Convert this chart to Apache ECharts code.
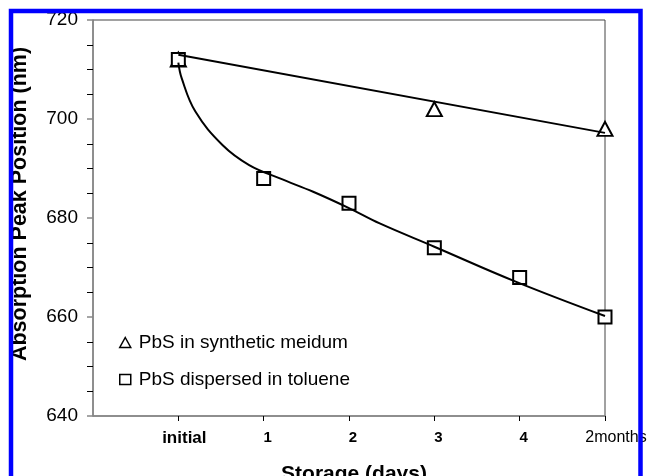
<!DOCTYPE html>
<html>
<head>
<meta charset="utf-8">
<script src="https://cdn.jsdelivr.net/npm/echarts@6/dist/echarts.min.js"></script>
<style>
html,body{margin:0;padding:0;background:#fff;}
#chart{width:647px;height:476px;}
</style>
</head>
<body>
<div id="chart"></div>
<script>
// ---- data ----
const xLabels = ['initial', '1', '2', '3', '4', '2months'];
const xTickValues = [0, 1, 2, 3, 4, 5];

const synName = 'PbS in synthetic meidum';
const synX = [0, 3, 5];
const synY = [712, 702, 698];

const tolName = 'PbS dispersed in toluene';
const tolX = [0, 1, 2, 3, 4, 5];
const tolY = [712, 688, 683, 674, 668, 660];

// straight trend line of the synthetic-medium series (end points)
const synTrendX = [0, 5];
const synTrendY = [713, 697.2];

// curved trend line of the toluene series
const tolCurveX = [0, 0.04, 0.2, 0.52, 0.83, 1.19, 1.58, 2.0, 2.36, 3.0, 3.96, 5];
const tolCurveY = [711.4, 708.2, 701.5, 694.7, 690.7, 688.0, 685.3, 682.0, 678.9, 674.2, 667.1, 660.2];

const yMin = 640, yMax = 720, yStep = 20;

const zip = (xs, ys) => xs.map((x, i) => [x, ys[i]]);
const FONT = 'Liberation Sans, Arial, sans-serif';

const chart = echarts.init(document.getElementById('chart'), null, {renderer: 'canvas'});
chart.setOption({
  backgroundColor: '#fff',
  animation: false,
  grid: {
    left: 93, top: 20, right: 42, bottom: 60,
    outerBoundsMode: 'none',
    containLabel: false,
    show: true, borderColor: '#444', borderWidth: 1, backgroundColor: '#fff'
  },
  legend: {
    orient: 'vertical',
    left: 119, top: 333,
    itemWidth: 11, itemHeight: 10, itemGap: 18,
    padding: 0,
    selectedMode: false,
    textStyle: {fontFamily: FONT, fontSize: 19, color: '#000', padding: [0, 0, 0, 3]},
    itemStyle: {borderWidth: 1.5},
    data: [
      {name: synName, icon: 'triangle'},
      {name: tolName, icon: 'rect'}
    ]
  },
  xAxis: {
    type: 'value',
    min: -1, max: 5, interval: 1,
    name: 'Storage (days)',
    nameLocation: 'middle',
    nameGap: 48,
    nameTextStyle: {fontFamily: FONT, fontSize: 21, fontWeight: 'bold', color: '#000', padding: [0, 0, 0, 10]},
    axisLine: {onZero: false, lineStyle: {color: '#888', width: 1.5}},
    axisTick: {show: true, length: 5, customValues: xTickValues, lineStyle: {color: '#000', width: 1}},
    splitLine: {show: false},
    minorSplitLine: {show: false},
    axisLabel: {
      customValues: xTickValues,
      margin: 14,
      formatter: function (v) {
        const s = xLabels[Math.round(v)];
        if (s === undefined) return '';
        if (s === 'initial') return '{a|' + s + '}';
        if (s === '2months') return '{c|' + s + '}';
        return '{b|' + s + '}';
      },
      rich: {
        a: {fontFamily: FONT, fontSize: 17, fontWeight: 'bold', color: '#000', padding: [0, 0, 0, 12]},
        b: {fontFamily: FONT, fontSize: 15, fontWeight: 'bold', color: '#000', padding: [0, 0, 0, 8]},
        c: {fontFamily: FONT, fontSize: 16, color: '#000', padding: [0, 0, 0, 22]}
      }
    }
  },
  yAxis: {
    type: 'value',
    min: yMin, max: yMax, interval: yStep,
    name: 'Absorption Peak Position (nm)',
    nameLocation: 'middle',
    nameRotate: 90,
    nameGap: 62,
    nameTextStyle: {fontFamily: FONT, fontSize: 21.5, fontWeight: 'bold', color: '#000', padding: [0, 0, 0, 28]},
    axisLine: {show: true, onZero: false, lineStyle: {color: '#888', width: 1.5}},
    axisTick: {show: true, length: 6, lineStyle: {color: '#888', width: 1.5}},
    minorTick: {show: true, splitNumber: 4, length: 6, lineStyle: {color: '#000', width: 1}},
    splitLine: {show: false},
    minorSplitLine: {show: false},
    axisLabel: {fontFamily: FONT, fontSize: 19, color: '#000', margin: 15}
  },
  series: [
    {
      name: synName, type: 'scatter', z: 2,
      symbol: 'triangle', symbolSize: [15, 14],
      itemStyle: {color: '#fff', borderColor: '#000', borderWidth: 2, opacity: 1},
      data: zip(synX, synY)
    },
    {
      name: tolName, type: 'scatter', z: 3,
      symbol: 'rect', symbolSize: 13,
      itemStyle: {color: '#fff', borderColor: '#000', borderWidth: 2, opacity: 1},
      data: zip(tolX, tolY)
    },
    {
      name: 'synTrend', type: 'line', z: 4, silent: true,
      symbol: 'none',
      lineStyle: {color: '#000', width: 2},
      data: zip(synTrendX, synTrendY)
    },
    {
      name: 'tolCurve', type: 'line', z: 4, silent: true,
      symbol: 'none', smooth: 0.4,
      lineStyle: {color: '#000', width: 2},
      data: zip(tolCurveX, tolCurveY)
    }
  ],
  graphic: [
    {
      type: 'rect', z: 100, silent: true,
      shape: {x: 11, y: 11, width: 629.5, height: 520},
      style: {fill: 'none', stroke: '#0000ff', lineWidth: 4.5}
    }
  ]
});
</script>
</body>
</html>
